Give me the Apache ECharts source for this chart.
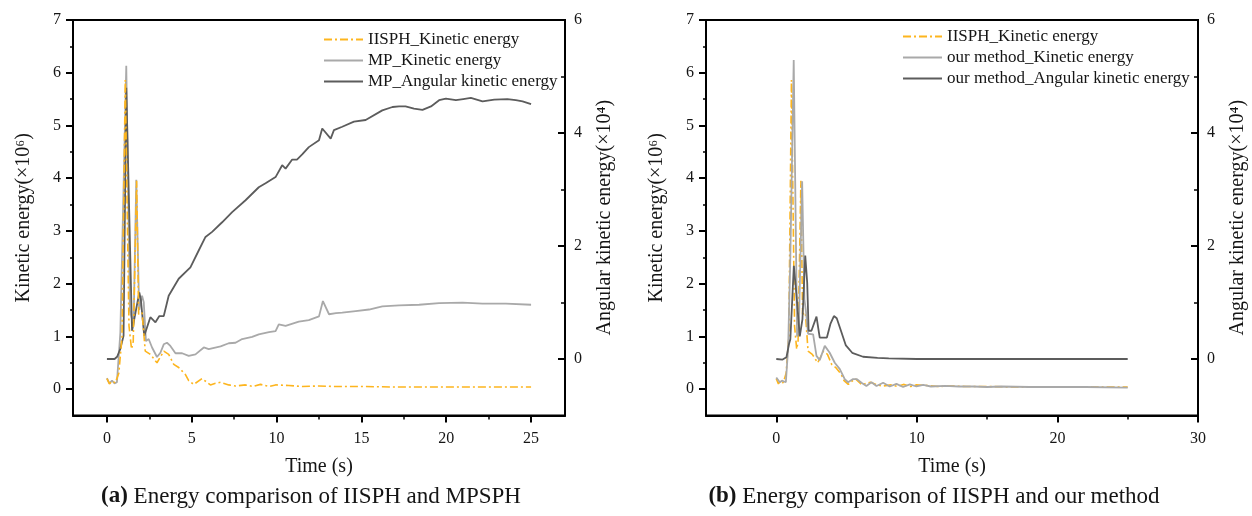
<!DOCTYPE html>
<html>
<head>
<meta charset="utf-8">
<script src="https://cdn.jsdelivr.net/npm/echarts@6/dist/echarts.min.js"></script>
<style>
html,body{margin:0;padding:0;background:#fff;}
#c{width:1252px;height:516px;}
</style>
</head>
<body>
<div id="c"></div>
<script>
// ---------- data (time in s, kinetic in 1e6, angular in 1e4) ----------
const iisph = [[0,0.2],[0.15,0.1],[0.3,0.15],[0.49,0.12],[0.7,0.3],[0.89,1.0],[1.08,5.86],[1.3,1.2],[1.45,0.76],[1.55,0.9],[1.75,3.95],[1.87,1.42],[2.07,1.45],[2.26,0.72],[2.56,0.66],[2.95,0.5],[3.35,0.72],[3.64,0.66],[3.94,0.47],[4.23,0.41],[4.62,0.28],[4.82,0.16],[5.12,0.09],[5.61,0.2],[6.1,0.08],[6.4,0.11],[6.7,0.13],[7.18,0.08],[7.58,0.06],[8.17,0.08],[8.6,0.05],[9.05,0.09],[9.55,0.05],[9.94,0.08],[10.72,0.07],[11.5,0.05],[12.5,0.06],[13.5,0.05],[15,0.05],[17,0.04],[19,0.04],[21,0.04],[23,0.04],[25,0.04]];

const mpKinetic = [[0,0.21],[0.14,0.11],[0.3,0.16],[0.45,0.11],[0.59,0.13],[0.79,1.07],[1.14,6.13],[1.35,1.5],[1.57,1.2],[1.73,3.97],[1.9,1.5],[2.07,1.77],[2.17,1.65],[2.3,0.91],[2.46,0.95],[2.66,0.79],[2.95,0.61],[3.15,0.69],[3.35,0.85],[3.54,0.88],[3.74,0.82],[4.04,0.68],[4.43,0.68],[4.82,0.63],[5.22,0.66],[5.71,0.79],[6.0,0.76],[6.7,0.81],[7.18,0.87],[7.58,0.88],[7.97,0.95],[8.56,0.99],[8.95,1.04],[9.55,1.08],[9.94,1.1],[10.13,1.23],[10.53,1.2],[11.31,1.28],[11.9,1.31],[12.5,1.38],[12.73,1.67],[13.09,1.42],[13.5,1.44],[13.87,1.45],[14.66,1.48],[15.45,1.51],[16.23,1.57],[17.22,1.59],[18.4,1.6],[19.58,1.63],[20.96,1.64],[22.14,1.62],[23.52,1.62],[25,1.6]];

const mpAngular = [[0,0],[0.45,0.0],[0.6,0.04],[0.79,0.18],[0.98,0.41],[1.14,4.8],[1.48,0.5],[1.91,1.18],[2.0,1.05],[2.2,0.41],[2.3,0.42],[2.56,0.74],[2.86,0.65],[3.09,0.76],[3.35,0.76],[3.64,1.12],[4.23,1.42],[4.92,1.62],[5.41,1.92],[5.81,2.16],[6.2,2.25],[6.79,2.42],[7.38,2.6],[8.17,2.81],[8.95,3.04],[9.35,3.11],[9.94,3.22],[10.33,3.43],[10.53,3.37],[10.92,3.53],[11.2,3.53],[11.51,3.62],[11.9,3.75],[12.5,3.87],[12.69,4.08],[13.19,3.9],[13.38,4.05],[13.87,4.11],[14.56,4.2],[15.25,4.23],[16.23,4.4],[16.83,4.46],[17.22,4.47],[17.6,4.47],[18.1,4.43],[18.6,4.41],[19.1,4.47],[19.58,4.58],[19.98,4.61],[20.57,4.58],[21.0,4.6],[21.45,4.62],[22.14,4.56],[22.83,4.59],[23.6,4.6],[24.1,4.58],[24.5,4.56],[25,4.51]];

const ourKinetic = [[0,0.22],[0.25,0.13],[0.4,0.16],[0.68,0.13],[0.84,0.76],[1.0,2.5],[1.24,6.24],[1.48,1.0],[1.6,1.1],[1.84,3.94],[2.0,1.7],[2.1,1.5],[2.26,1.05],[2.4,1.02],[2.62,1.04],[2.86,0.63],[3.09,0.55],[3.45,0.82],[3.8,0.69],[4.16,0.5],[4.52,0.38],[4.87,0.19],[5.11,0.13],[5.46,0.19],[5.74,0.19],[6.06,0.12],[6.41,0.06],[6.77,0.13],[7.13,0.06],[7.6,0.12],[8.07,0.05],[8.55,0.1],[9.02,0.04],[9.5,0.09],[9.97,0.05],[10.45,0.08],[11,0.05],[12,0.06],[13,0.05],[14,0.05],[15,0.04],[16,0.05],[18,0.04],[20,0.04],[22,0.04],[25,0.03]];

const ourAngular = [[0,0],[0.45,-0.01],[0.72,0.03],[0.91,0.27],[1.0,0.35],[1.25,1.65],[1.43,1.15],[1.67,0.4],[1.86,0.7],[2.06,1.83],[2.2,1.35],[2.3,0.5],[2.5,0.5],[2.86,0.75],[3.09,0.38],[3.6,0.38],[3.85,0.62],[4.1,0.76],[4.3,0.72],[4.6,0.5],[4.95,0.24],[5.4,0.11],[6.17,0.04],[7.2,0.02],[8,0.01],[10,0.0],[15,0.0],[20,0.0],[25,0.0]];

const xTicksA = [0,5,10,15,20,25];
const xMinorA = [2.5,7.5,12.5,17.5,22.5];
const xTicksB = [0,10,20,30];
const xMinorB = [5,15,25];
const yLeftTicks = [0,1,2,3,4,5,6,7];
const yLeftMinor = [0.5,1.5,2.5,3.5,4.5,5.5,6.5];
const yRightTicks = [0,2,4,6];
const yRightMinor = [1,3,5];

const namesA = ['IISPH_Kinetic energy','MP_Kinetic energy','MP_Angular kinetic energy'];
const namesB = ['IISPH_Kinetic energy','our method_Kinetic energy','our method_Angular kinetic energy'];
const captions = ['{b|(a)} Energy comparison of IISPH and MPSPH','{b|(b)} Energy comparison of IISPH and our method'];

// ---------- styling ----------
const FONT = 'Liberation Serif';
const TXT = '#151515';
const ORANGE = '#FDB51E';
const LIGHT = '#A9A9A9';
const DARK = '#5C5C5C';

const grids = [
  {left:73, top:20, width:492, height:395.5, show:true, borderColor:'#000', borderWidth:2},
  {left:706, top:20, width:492, height:395.5, show:true, borderColor:'#000', borderWidth:2}
];

function xMajor(g, min, max, ticks){
  return {type:'value', gridIndex:g, min:min, max:max, position:'bottom',
    axisLine:{show:true, onZero:false, lineStyle:{color:'#000', width:2}},
    axisTick:{show:true, inside:false, length:7, customValues:ticks, lineStyle:{color:'#000', width:2}},
    axisLabel:{show:true, customValues:ticks, margin:15, fontFamily:FONT, fontSize:16, color:TXT},
    splitLine:{show:false},
    name:'Time (s)', nameLocation:'middle', nameGap:41,
    nameTextStyle:{fontFamily:FONT, fontSize:20, color:TXT}};
}
function xMinor(g, min, max, ticks){
  return {type:'value', gridIndex:g, min:min, max:max, position:'bottom',
    axisLine:{show:false, onZero:false},
    axisTick:{show:true, inside:false, length:4, customValues:ticks, lineStyle:{color:'#000', width:1.5}},
    axisLabel:{show:false}, splitLine:{show:false}};
}
function yLeft(g){
  return {type:'value', gridIndex:g, min:-0.5, max:7, position:'left',
    axisLine:{show:true, onZero:false, lineStyle:{color:'#000', width:2}},
    axisTick:{show:true, inside:false, length:7, customValues:yLeftTicks, lineStyle:{color:'#000', width:2}},
    axisLabel:{show:true, customValues:yLeftTicks, margin:12, fontFamily:FONT, fontSize:16, color:TXT},
    splitLine:{show:false},
    name:'Kinetic energy(×10⁶)', nameLocation:'middle', nameGap:39, nameRotate:90,
    nameTextStyle:{fontFamily:FONT, fontSize:20, color:TXT}};
}
function yLeftMin(g){
  return {type:'value', gridIndex:g, min:-0.5, max:7, position:'left',
    axisLine:{show:false, onZero:false},
    axisTick:{show:true, inside:false, length:3, customValues:yLeftMinor, lineStyle:{color:'#000', width:1.5}},
    axisLabel:{show:false}, splitLine:{show:false}};
}
function yRight(g){
  return {type:'value', gridIndex:g, min:-1, max:6, position:'right',
    axisLine:{show:true, onZero:false, lineStyle:{color:'#000', width:2}},
    axisTick:{show:true, inside:true, length:7, customValues:yRightTicks, lineStyle:{color:'#000', width:2}},
    axisLabel:{show:true, customValues:yRightTicks, margin:9, fontFamily:FONT, fontSize:16, color:TXT},
    splitLine:{show:false},
    name:'Angular kinetic energy(×10⁴)', nameLocation:'middle', nameGap:30, nameRotate:90,
    nameTextStyle:{fontFamily:FONT, fontSize:20, color:TXT}};
}
function yRightMin(g){
  return {type:'value', gridIndex:g, min:-1, max:6, position:'right',
    axisLine:{show:false, onZero:false},
    axisTick:{show:true, inside:true, length:4, customValues:yRightMinor, lineStyle:{color:'#000', width:1.5}},
    axisLabel:{show:false}, splitLine:{show:false}};
}

function line(name, data, xi, yi, color, dash, z){
  return {type:'line', name:name, data:data, xAxisIndex:xi, yAxisIndex:yi,
    symbol:'none', showSymbol:false, smooth:false, z:z, animation:false,
    lineStyle:{color:color, width:dash ? 1.6 : 1.8, type: dash ? [8,3,2,3] : 'solid'},
    itemStyle:{color:color}};
}

const legendBase = {orient:'vertical', itemWidth:39, itemHeight:1, itemGap:2,
  itemStyle:{opacity:0},
  textStyle:{fontFamily:FONT, fontSize:17, color:TXT, lineHeight:19}, padding:0};

const option = {
  backgroundColor:'#fff',
  animation:false,
  grid: grids,
  xAxis: [xMajor(0,-2,27,xTicksA), xMinor(0,-2,27,xMinorA), xMajor(1,-5,30,xTicksB), xMinor(1,-5,30,xMinorB)],
  yAxis: [yLeft(0), yLeftMin(0), yRight(0), yRightMin(0), yLeft(1), yLeftMin(1), yRight(1), yRightMin(1)],
  legend: [
    Object.assign({}, legendBase, {data:namesA, left:323, top:30}),
    Object.assign({}, legendBase, {data:namesB, left:902, top:27})
  ],
  title: [
    {text:captions[0], left:306, top:480, textAlign:'center',
     textStyle:{fontFamily:FONT, fontSize:23, fontWeight:'normal', color:TXT, rich:{b:{fontFamily:FONT, fontSize:23, fontWeight:'bold', color:TXT}}}},
    {text:captions[1], left:929, top:480, textAlign:'center',
     textStyle:{fontFamily:FONT, fontSize:23, fontWeight:'normal', color:TXT, rich:{b:{fontFamily:FONT, fontSize:23, fontWeight:'bold', color:TXT}}}}
  ],
  series: [
    line(namesA[1], mpKinetic, 0, 0, LIGHT, false, 3),
    line(namesA[2], mpAngular, 0, 2, DARK, false, 3),
    line(namesA[0], iisph, 0, 0, ORANGE, true, 4),
    line(namesB[0], iisph, 2, 4, ORANGE, true, 2),
    line(namesB[1], ourKinetic, 2, 4, LIGHT, false, 3),
    line(namesB[2], ourAngular, 2, 6, DARK, false, 3)
  ]
};

const chart = echarts.init(document.getElementById('c'), null, {renderer:'canvas'});
chart.setOption(option);
</script>
</body>
</html>
